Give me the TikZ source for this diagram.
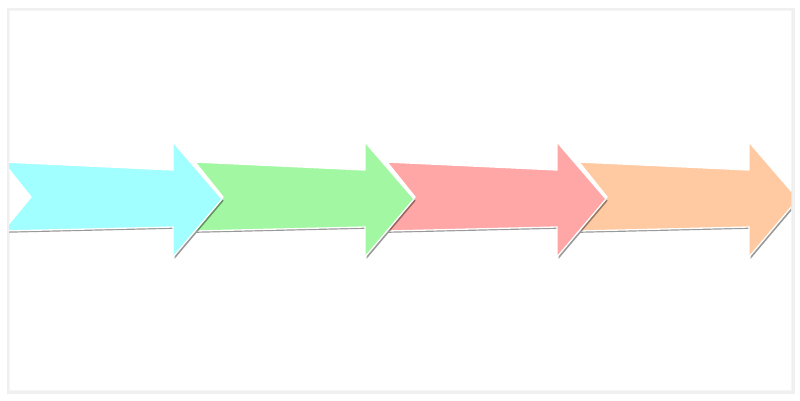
\documentclass[tikz,border=0pt]{standalone}
\usetikzlibrary{calc}
\definecolor{flowcyan}{RGB}{162,255,255}
\definecolor{flowgreen}{RGB}{162,248,162}
\definecolor{flowred}{RGB}{255,166,166}
\definecolor{floworange}{RGB}{255,202,162}
\tikzset{
    flow diagram/.style = {x=1pt, y=-1pt},
    panel/.style        = {fill=white, draw=black!4, line width=0.5pt},
    panel shadow/.style = {fill=black!6},
    flow arrow/.style   = {draw=white, line width=1.3pt, line join=miter,
                           preaction={fill=black, opacity=0.4,
                                      transform canvas={shift={(1.6pt,-1.8pt)}}}}
}
\begin{document}
\begin{tikzpicture}[flow diagram]
\useasboundingbox (0,0) rectangle (800,400);

% Card with a faint, soft shadow
\fill[panel shadow] (7,8) rectangle (795,394);
\fill[panel shadow] (8,9) rectangle (793,392);
\draw[panel] (9,10) rectangle (791,390);

% Four chevron arrows, drawn right to left so each tip lies on the next tail
\begin{scope}
    \clip (9,10) rectangle (791,390);
    \foreach \col/\k in {floworange/3, flowred/2, flowgreen/1, flowcyan/0} {
        \begin{scope}[xshift=\k*192]
            \draw[flow arrow, fill=\col]
                (3,162) -- (173,170) -- (173,142) -- (222,199)
                -- (173,257) -- (173,227) -- (3,231) -- (31,197) -- cycle;
        \end{scope}
    }
\end{scope}

\end{tikzpicture}
\end{document}
